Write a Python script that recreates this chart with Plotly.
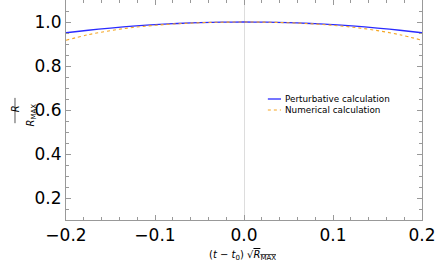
import plotly.graph_objects as go

t_values = [-0.2, -0.175, -0.15, -0.125, -0.1, -0.075, -0.05, -0.025, 0.0,
            0.025, 0.05, 0.075, 0.1, 0.125, 0.15, 0.175, 0.2]
perturbative = [0.9512, 0.9626, 0.9726, 0.9809, 0.9878, 0.9931, 0.9970, 0.9992, 1.0,
                0.9992, 0.9970, 0.9931, 0.9878, 0.9809, 0.9726, 0.9626, 0.9512]
numerical = [0.9172, 0.9421, 0.9609, 0.9749, 0.9850, 0.9920, 0.9966, 0.9992, 1.0,
             0.9992, 0.9966, 0.9920, 0.9850, 0.9749, 0.9609, 0.9421, 0.9172]
series_names = ["Perturbative calculation", "Numerical calculation"]
series_colors = ["#2b2bff", "#f5a623"]
series_dash = ["solid", "dot"]
series_widths = [1.3, 1.1]

fig = go.Figure()
for vals, name, col, dash, w in zip([perturbative, numerical], series_names,
                                    series_colors, series_dash, series_widths):
    fig.add_trace(go.Scatter(x=t_values, y=vals, mode="lines", name=name, showlegend=False,
                             hoverinfo="skip",
                             line=dict(color=col, width=w, dash=dash, shape="spline")))

axis_common = dict(showgrid=False, showline=True, linecolor="#999999", linewidth=1,
                   mirror="allticks", ticks="inside", ticklen=5, tickcolor="#999999",
                   tickfont=dict(family="DejaVu Sans", size=17, color="black"),
                   tickformat=".1f", ticklabeloverflow="allow")

fig.update_xaxes(range=[-0.2, 0.2], tick0=-0.2, dtick=0.1,
                 zeroline=True, zerolinecolor="#dddddd", zerolinewidth=1,
                 minor=dict(dtick=0.02, ticks="inside", ticklen=3, tickcolor="#999999"),
                 **axis_common)
fig.update_yaxes(range=[0.1, 1.1], tick0=0.2, dtick=0.2, zeroline=False,
                 minor=dict(dtick=0.05, ticks="inside", ticklen=3, tickcolor="#999999"),
                 **axis_common)

# y-axis title as a rotated fraction R / R_MAX
fig.add_annotation(xref="paper", yref="paper", x=-0.163, y=0.505, text="<i>R</i>",
                   textangle=-90, showarrow=False,
                   font=dict(family="DejaVu Sans", size=10, color="black"))
fig.add_annotation(xref="paper", yref="paper", x=-0.122, y=0.475, text="<i>R</i><sub>MAX</sub>",
                   textangle=-90, showarrow=False,
                   font=dict(family="DejaVu Sans", size=10, color="black"))
fig.add_shape(type="line", xref="paper", yref="paper", x0=-0.1433, x1=-0.1433,
              y0=0.44, y1=0.555, line=dict(color="#555555", width=1))

# x-axis title
fig.add_annotation(xref="paper", yref="paper", x=0.497, y=-0.16, yanchor="middle",
                   text="(<i>t</i> − <i>t</i><sub>0</sub>) √<span style='text-decoration:overline'><i>R</i><sub>MAX</sub></span>",
                   showarrow=False, font=dict(family="DejaVu Sans", size=10, color="black"))

# legend
legend_y = [0.55, 0.50]
for name, col, dash, w, ly in zip(series_names, series_colors, series_dash, series_widths, legend_y):
    fig.add_shape(type="line", xref="paper", yref="paper", x0=0.567, x1=0.604, y0=ly, y1=ly,
                  line=dict(color=col, width=w, dash=dash))
    fig.add_annotation(xref="paper", yref="paper", x=0.609, y=ly, xanchor="left", yanchor="middle",
                       text=name, showarrow=False,
                       font=dict(family="DejaVu Sans", size=8.8, color="black"))

fig.update_layout(
    width=437, height=267,
    margin=dict(l=66, r=15, t=0, b=47),
    plot_bgcolor="white", paper_bgcolor="white",
    showlegend=False, hovermode=False,
)

fig.write_html("out.html", config={"displayModeBar": False},
               post_script="document.body.style.margin='0';")
